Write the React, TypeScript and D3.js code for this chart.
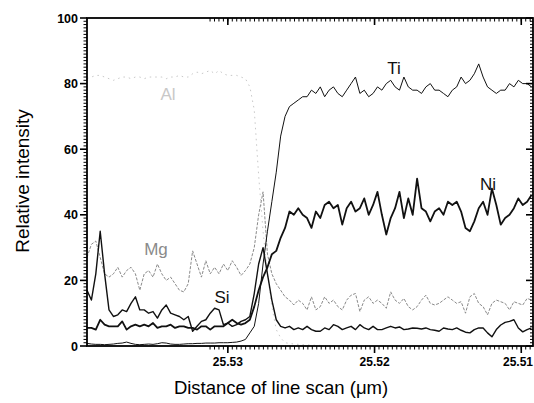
import React from "react";
import * as d3 from "d3";

// line scan sampled every 0.0003 um, starting at the left edge of the plot
const scanStart = 25.5396;
const scanStep = 0.0003;

const tiValues = [
  0.8, 0.6, 0.5, 0.5, 0.4, 0.5, 0.6, 0.8, 0.9, 1.2,
  0.8, 0.5, 0.4, 0.5, 0.6, 0.5, 0.7, 1.0, 0.9, 0.6,
  0.5, 0.5, 0.6, 0.7, 0.7, 0.8, 0.8, 0.9, 0.9, 0.9,
  1.0, 1.0, 1.0, 1.1, 1.2, 1.5, 2, 4, 6, 13,
  25, 35, 44, 53, 64, 70, 73, 74, 75, 76,
  76, 78, 77, 79, 76, 78, 79, 77, 76, 78,
  80, 82, 77, 78, 76, 77, 79, 78, 80, 81,
  79, 78, 82, 79, 78, 78, 77, 79, 80, 78,
  78, 77, 76, 78, 79, 82, 80, 81, 83, 86,
  82, 79, 78, 77, 78, 78, 80, 79, 81, 80,
  80, 79,
];

const niValues = [
  5.5, 5.5, 5, 8, 6.5, 6, 6, 6, 7.5, 5,
  6, 6.5, 6, 6.5, 6, 7, 5.5, 6, 6, 6.5,
  5.5, 6, 6, 5.5, 5.5, 5, 6, 6, 5, 6,
  6, 6, 7, 8, 7, 6.5, 7, 8, 12, 17,
  21, 24, 28, 29, 33, 36, 41, 40, 42, 40,
  39, 36, 41, 39, 43, 44, 42, 43, 37, 42,
  44, 41, 42, 45, 40, 43, 47, 40, 34, 39,
  42, 47, 39, 45, 40, 51, 42, 41, 38, 41,
  42, 40, 44, 43, 44, 41, 36, 35, 38, 42,
  44, 40, 48, 43, 37, 39, 40, 42, 45, 43,
  44, 46,
];

const siValues = [
  17, 14, 22, 35, 22, 11, 9, 9.5, 11, 10.5,
  13, 15, 11, 11, 10, 10.5, 8.5, 11, 12.5, 10,
  9.5, 9, 8, 9, 4.5, 6, 7.5, 8, 10, 11.5,
  11, 6.5, 7, 6, 6.5, 7.5, 8, 9, 16, 25,
  30, 22, 14, 8, 6, 5.5, 6, 5, 5.5, 5,
  6, 5, 4.5, 4.5, 5.5, 5, 6.5, 6, 5, 5.5,
  6, 5, 6.5, 5.5, 5, 6, 5, 5, 5.5, 6,
  5.5, 5.8, 5, 5.2, 5.5, 5.4, 5.2, 5.5, 5, 4.8,
  4.5, 5.5, 5.2, 5, 5.5, 4.8, 4.2, 4, 5, 5.5,
  5.5, 4, 2.8, 5, 6.4, 7.2, 7.5, 8, 5.5, 4.3,
  5, 5.5,
];

const mgValues = [
  27, 31, 32, 27, 22, 21, 22, 24, 21, 23,
  24, 22, 17, 22, 23, 21, 25, 22, 20, 21,
  19, 17, 16.5, 19, 29, 25, 21, 26, 22, 24,
  22, 25, 23, 26, 24, 21.5, 23, 25, 30, 40,
  47, 28, 22, 19, 17, 15, 14, 12.5, 14, 13,
  11, 15, 11, 12, 15, 13, 14, 12, 11, 14,
  15.5, 16, 10.5, 14, 15, 13, 14, 13, 11.5, 16.5,
  14, 13, 14.5, 12, 11, 12, 14, 15.5, 13, 12.5,
  13, 14, 15, 14, 13, 13.5, 10, 15, 16, 13,
  12, 9.5, 13, 14, 13.5, 13, 11, 13.5, 13, 12.5,
  14.5, 14,
];

// Al fades into the axis after the interface
const alValues = [
  81.5, 82, 82.5, 82.5, 82, 81.5, 81, 81.5, 82, 82,
  81.5, 82, 82, 81.5, 82, 82, 82, 82, 81.5, 82,
  82, 82.5, 82, 82, 83, 83.5, 83, 83.5, 84, 83,
  84, 83, 82.5, 82.5, 82.5, 82, 81.5, 79, 72, 52,
  35, 22, 12, 5, 2.5, 1, 0.8, 0.6, 0.5, 0.4,
  0.3, 0.3, 0.2, 0.2,
];

const xTickValues = [25.53, 25.52, 25.51];
const yTickValues = [0, 20, 40, 60, 80, 100];

const seriesList = [
  { name: "Al", values: alValues, color: "#c8c8c8", width: 1, dash: "1.5,4", label: [168, 94] },
  { name: "Mg", values: mgValues, color: "#8a8a8a", width: 1, dash: "3,1.5", label: [156, 249] },
  { name: "Ti", values: tiValues, color: "#111", width: 1, dash: null, label: [394, 68] },
  { name: "Si", values: siValues, color: "#111", width: 1.4, dash: null, label: [222, 297] },
  { name: "Ni", values: niValues, color: "#111", width: 1.8, dash: null, label: [488, 184] },
];

const width = 534;
const height = 403;
const left = 87;
const right = 533;
const top = 18;
const bottom = 346;

export default function App() {
  const x = d3.scaleLinear().domain([25.5396, 25.5092]).range([left, right]);
  const y = d3.scaleLinear().domain([0, 100]).range([bottom, top]);

  const distance = (i: number) => scanStart - i * scanStep;
  const line = d3
    .line<number>()
    .x((_, i) => x(distance(i)))
    .y((d) => y(d));

  const xMinor = d3
    .range(-1, 34 * 3)
    .map((k) => 25.53 + (0.01 / 33) * 3 - (k * 0.01) / 33)
    .filter((v) => x(v) > left + 1 && x(v) < right - 1);
  const yMinor = d3.range(1, 100).filter((v) => v % 20 !== 0);

  const font = "'Liberation Sans', Arial, sans-serif";

  return (
    <div style={{ position: "absolute", left: 0, top: 0 }}>
      <svg width={width} height={height} style={{ display: "block", background: "#fff" }}>
        <defs>
          <clipPath id="plot">
            <rect x={left} y={top} width={right - left} height={bottom - top} />
          </clipPath>
        </defs>

        <g clipPath="url(#plot)">
          {seriesList.map((s) => (
            <path
              key={s.name}
              d={line(s.values) || ""}
              fill="none"
              stroke={s.color}
              strokeWidth={s.width}
              strokeDasharray={s.dash || undefined}
              strokeLinejoin="round"
            />
          ))}
        </g>

        {/* frame */}
        <rect x={left} y={top} width={right - left} height={bottom - top} fill="none" stroke="#000" strokeWidth={1.8} />

        {/* y ticks: left outward, right inward */}
        {yMinor.map((v) => (
          <g key={"ym" + v} stroke="#000" strokeWidth={1}>
            <line x1={left - 3.5} x2={left} y1={y(v)} y2={y(v)} />
            <line x1={right - 3} x2={right} y1={y(v)} y2={y(v)} />
          </g>
        ))}
        {yTickValues.map((v) => (
          <g key={"y" + v}>
            <line x1={left - 7} x2={left} y1={y(v)} y2={y(v)} stroke="#000" strokeWidth={1.6} />
            <line x1={right - 7} x2={right} y1={y(v)} y2={y(v)} stroke="#000" strokeWidth={1.6} />
            <text
              x={left - 9}
              y={y(v)}
              dy="0.36em"
              textAnchor="end"
              fontFamily={font}
              fontWeight="bold"
              fontSize={12.5}
            >
              {v}
            </text>
          </g>
        ))}

        {/* x ticks: bottom outward, top inward */}
        {xMinor.map((v, i) => (
          <g key={"xm" + i} stroke="#000" strokeWidth={1}>
            <line x1={x(v)} x2={x(v)} y1={bottom} y2={bottom + 3.5} />
            <line x1={x(v)} x2={x(v)} y1={top} y2={top + 3.5} />
          </g>
        ))}
        {xTickValues.map((v) => {
          const last = x(v) + 17 > width;
          return (
            <g key={"x" + v}>
              <line x1={x(v)} x2={x(v)} y1={bottom} y2={bottom + 7} stroke="#000" strokeWidth={1.6} />
              <line x1={x(v)} x2={x(v)} y1={top} y2={top + 7} stroke="#000" strokeWidth={1.6} />
              <text
                x={last ? width - 1 : x(v)}
                y={bottom + 20}
                textAnchor={last ? "end" : "middle"}
                fontFamily={font}
                fontWeight="bold"
                fontSize={12}
              >
                {v.toFixed(2)}
              </text>
            </g>
          );
        })}

        {/* element labels */}
        {seriesList.map((s) => (
          <text
            key={"l" + s.name}
            x={s.label[0]}
            y={s.label[1]}
            dy="0.35em"
            textAnchor="middle"
            fontFamily={font}
            fontSize={17}
            fill={s.name === "Al" ? "#c8c8c8" : s.name === "Mg" ? "#8a8a8a" : "#111"}
          >
            {s.name}
          </text>
        ))}

        <text
          transform={`translate(22, 181) rotate(-90)`}
          textAnchor="middle"
          dy="0.35em"
          fontFamily={font}
          fontSize={19}
        >
          Relative intensity
        </text>
        <text x={281} y={394} textAnchor="middle" fontFamily={font} fontSize={18.5}>
          Distance of line scan (μm)
        </text>
      </svg>
    </div>
  );
}
